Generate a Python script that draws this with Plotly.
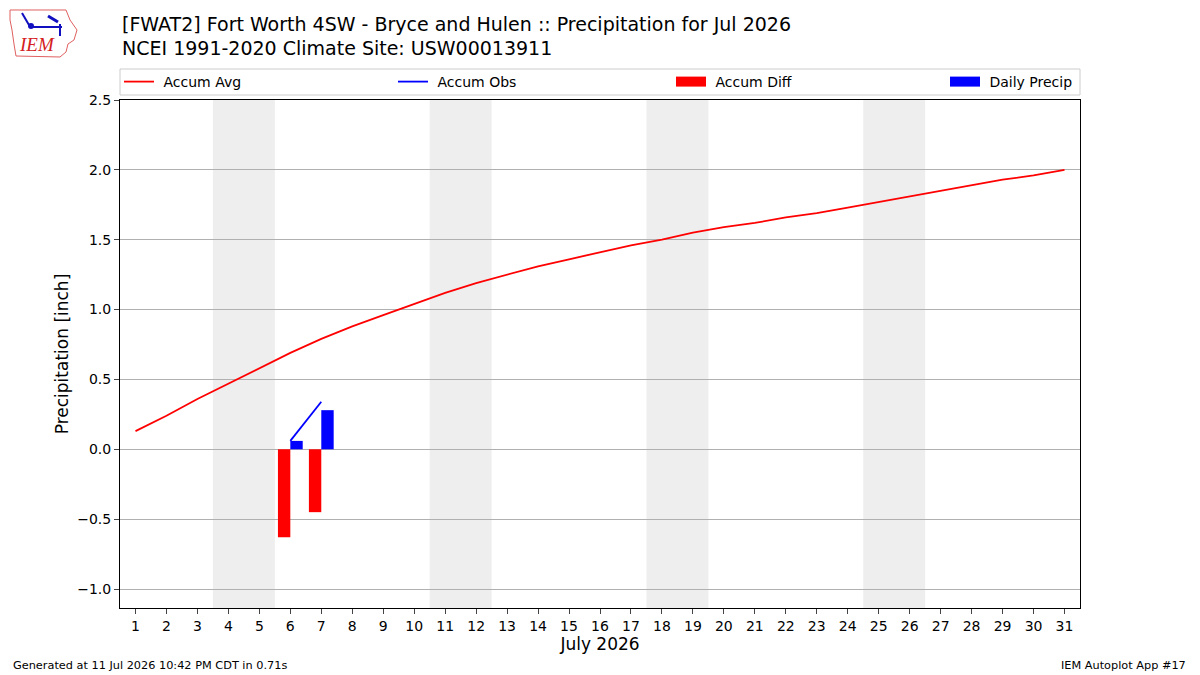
import plotly.graph_objects as go

days = list(range(1, 32))
accum_avg = [0.13, 0.24, 0.36, 0.47, 0.58, 0.69, 0.79, 0.88, 0.96, 1.04,
             1.12, 1.19, 1.25, 1.31, 1.36, 1.41, 1.46, 1.50, 1.55, 1.59,
             1.62, 1.66, 1.69, 1.73, 1.77, 1.81, 1.85, 1.89, 1.93, 1.96, 2.00]
obs_days = [6, 7]
accum_obs = [0.06, 0.34]
daily_precip = [0.06, 0.28]
accum_diff = [-0.63, -0.45]
weekends = [(4, 5), (11, 12), (18, 19), (25, 26)]

F = "DejaVu Sans"
NB = "\u00a0"
fig = go.Figure()

fig.add_trace(go.Scatter(x=days, y=accum_avg, mode="lines", name=NB + "Accum Avg",
                         line=dict(color="red", width=1.8), legend="legend"))
fig.add_trace(go.Scatter(x=obs_days, y=accum_obs, mode="lines", name=NB + "Accum Obs",
                         line=dict(color="blue", width=1.8), legend="legend2"))
fig.add_trace(go.Bar(x=obs_days, y=accum_diff, name="Accum Diff", marker_color="red",
                     marker_line_width=0, width=0.4, offset=-0.4, showlegend=False))
fig.add_trace(go.Bar(x=obs_days, y=daily_precip, name="Daily Precip", marker_color="blue",
                     marker_line_width=0, width=0.4, offset=0.0, showlegend=False))
# legend proxies for the bar series (wide rectangle patches)
fig.add_trace(go.Scatter(x=[None], y=[None], mode="lines", name=NB + "Accum Diff",
                         line=dict(color="red", width=10), legend="legend3"))
fig.add_trace(go.Scatter(x=[None], y=[None], mode="lines", name=NB + "Daily Precip",
                         line=dict(color="blue", width=10), legend="legend4"))


def to_paper(xp, yp):
    return (xp - 120) / 960, (608 - yp) / 508


shapes = []
for a, b in weekends:
    shapes.append(dict(type="rect", xref="x", yref="paper", x0=a - 0.5, x1=b + 0.5,
                       y0=0, y1=1, fillcolor="#eeeeee", line_width=0, layer="below"))
# legend box
lx0, ly0 = to_paper(120, 95)
lx1, ly1 = to_paper(1080, 69)
shapes.append(dict(type="rect", xref="paper", yref="paper", x0=lx0, x1=lx1,
                   y0=ly0, y1=ly1, line=dict(color="#cccccc", width=1), fillcolor="white"))

# logo (approximation of the IEM Iowa logo)
pts = [(10, 10), (66, 10), (70, 20), (77, 30), (74, 40), (68, 44), (66, 52),
       (60, 57), (16, 56), (14, 44), (12, 30), (10, 20)]
path = "M " + " L ".join(f"{to_paper(x, y)[0]:.5f} {to_paper(x, y)[1]:.5f}" for x, y in pts) + " Z"
shapes.append(dict(type="path", xref="paper", yref="paper", path=path,
                   line=dict(color="#e06060", width=1)))
for (p0, p1, w) in [((30, 27), (62, 27), 2), ((22, 13), (29, 25), 2),
                    ((48, 16), (58, 22), 3), ((60, 24), (60, 36), 2)]:
    a0, b0 = to_paper(*p0)
    a1, b1 = to_paper(*p1)
    shapes.append(dict(type="line", xref="paper", yref="paper", x0=a0, y0=b0, x1=a1, y1=b1,
                       line=dict(color="#1010c0", width=w)))
cx, cy = to_paper(31, 26)
shapes.append(dict(type="circle", xref="paper", yref="paper", x0=cx - 3 / 960, x1=cx + 3 / 960,
                   y0=cy - 3 / 508, y1=cy + 3 / 508, fillcolor="#1010c0", line_width=0))

annotations = [
    dict(text="[FWAT2] Fort Worth 4SW - Bryce and Hulen :: Precipitation for Jul 2026",
         xref="paper", yref="paper", x=0, y=to_paper(0, 24)[1], xanchor="left",
         yanchor="middle", showarrow=False, font=dict(family=F, size=19, color="black")),
    dict(text="NCEI 1991-2020 Climate Site: USW00013911",
         xref="paper", yref="paper", x=0, y=to_paper(0, 48)[1], xanchor="left",
         yanchor="middle", showarrow=False, font=dict(family=F, size=19, color="black")),
    dict(text="Generated at 11 Jul 2026 10:42 PM CDT in 0.71s", xref="paper", yref="paper",
         x=to_paper(11, 0)[0], y=to_paper(0, 665)[1], xanchor="left", yanchor="middle",
         showarrow=False, font=dict(family=F, size=11.3, color="black")),
    dict(text="IEM Autoplot App #17", xref="paper", yref="paper",
         x=to_paper(1188, 0)[0], y=to_paper(0, 665)[1], xanchor="right", yanchor="middle",
         showarrow=False, font=dict(family=F, size=11.3, color="black")),
    dict(text="<i>IEM</i>", xref="paper", yref="paper", x=to_paper(37, 0)[0],
         y=to_paper(0, 45)[1], xanchor="center", yanchor="middle", showarrow=False,
         font=dict(family="Liberation Serif", size=19, color="#d42020")),
]

leg_y = to_paper(0, 82)[1]
def leg(xpix):
    return dict(orientation="h", x=to_paper(xpix, 0)[0], y=leg_y, xanchor="left",
                yanchor="middle", bgcolor="rgba(0,0,0,0)", borderwidth=0,
                font=dict(family=F, size=14, color="black"), itemclick=False,
                itemdoubleclick=False)

fig.update_layout(
    width=1200, height=675,
    margin=dict(l=120, r=120, t=100, b=67),
    paper_bgcolor="white", plot_bgcolor="white",
    font=dict(family=F, size=14, color="black"),
    barmode="overlay",
    showlegend=True,
    legend=leg(119),
    legend2=leg(393),
    legend3=leg(671),
    legend4=leg(945),
    shapes=shapes,
    annotations=annotations,
    xaxis=dict(range=[0.5, 31.5], tickmode="array", tickvals=days,
               ticktext=[str(d) for d in days], ticks="outside", ticklen=5,
               showgrid=False, zeroline=False, showline=True, linecolor="black",
               mirror=True, title=dict(text="July 2026", font=dict(family=F, size=17),
                                       standoff=4),
               tickfont=dict(family=F, size=14)),
    yaxis=dict(range=[-1.136, 2.5], tickmode="array",
               tickvals=[-1.0, -0.5, 0.0, 0.5, 1.0, 1.5, 2.0, 2.5],
               ticktext=["\u22121.0", "\u22120.5", "0.0", "0.5", "1.0", "1.5", "2.0", "2.5"],
               ticks="outside", ticklen=5, showgrid=True, gridcolor="#b0b0b0",
               zeroline=False, showline=True, linecolor="black", mirror=True,
               title=dict(text="Precipitation [inch]", font=dict(family=F, size=17),
                          standoff=4),
               tickfont=dict(family=F, size=14)),
)

fig.write_html("out.html")
